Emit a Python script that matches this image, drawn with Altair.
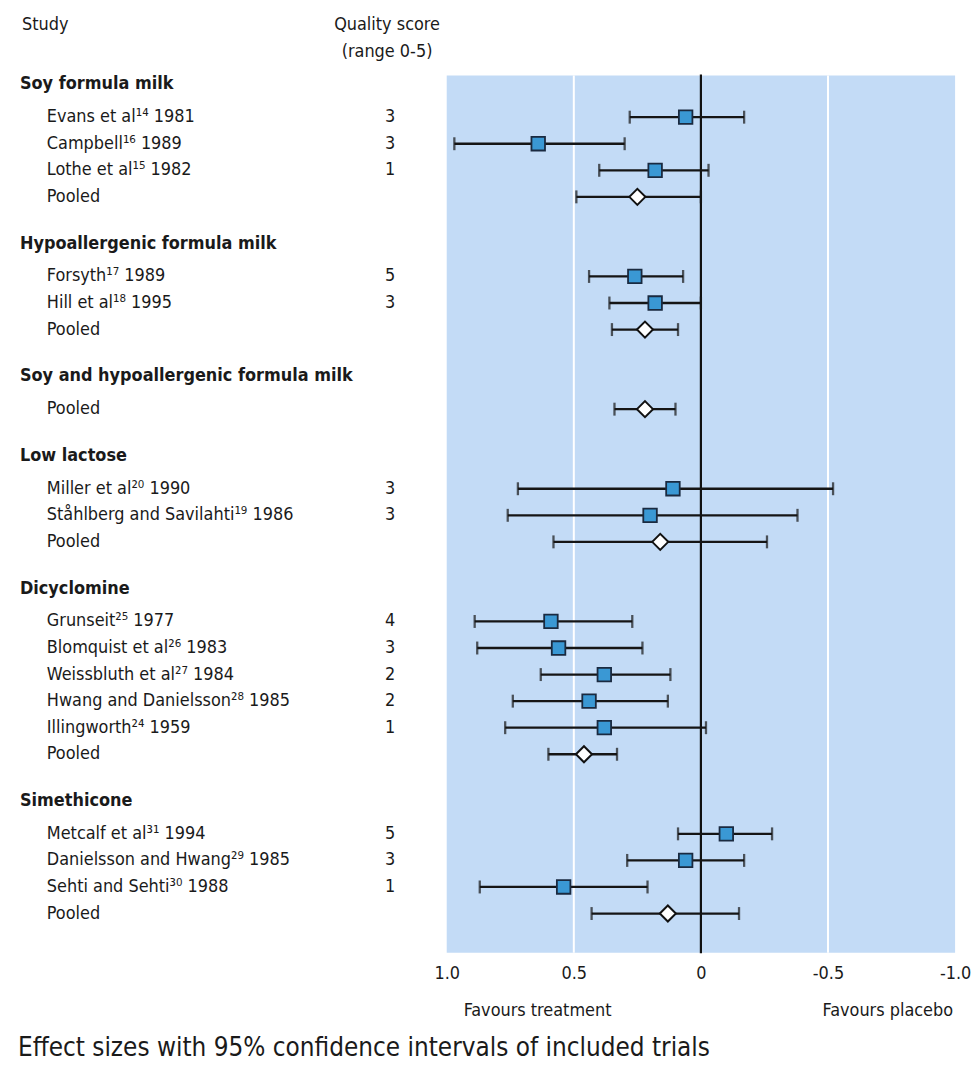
import altair as alt
import pandas as pd

# ---------------- data ----------------
groups = [
    "Soy formula milk",
    "Hypoallergenic formula milk",
    "Soy and hypoallergenic formula milk",
    "Low lactose",
    "Dicyclomine",
    "Simethicone",
]
study_group = [0, 0, 0, 0, 1, 1, 1, 2, 3, 3, 3, 4, 4, 4, 4, 4, 4, 5, 5, 5, 5]
study_label = [
    "Evans et al\u00b9\u2074 1981",
    "Campbell\u00b9\u2076 1989",
    "Lothe et al\u00b9\u2075 1982",
    "Pooled",
    "Forsyth\u00b9\u2077 1989",
    "Hill et al\u00b9\u2078 1995",
    "Pooled",
    "Pooled",
    "Miller et al\u00b2\u2070 1990",
    "St\u00e5hlberg and Savilahti\u00b9\u2079 1986",
    "Pooled",
    "Grunseit\u00b2\u2075 1977",
    "Blomquist et al\u00b2\u2076 1983",
    "Weissbluth et al\u00b2\u2077 1984",
    "Hwang and Danielsson\u00b2\u2078 1985",
    "Illingworth\u00b2\u2074 1959",
    "Pooled",
    "Metcalf et al\u00b3\u00b9 1994",
    "Danielsson and Hwang\u00b2\u2079 1985",
    "Sehti and Sehti\u00b3\u2070 1988",
    "Pooled",
]
quality = ["3", "3", "1", "", "5", "3", "", "", "3", "3", "", "4", "3", "2", "2", "1", "", "5", "3", "1", ""]
effect = [0.06, 0.64, 0.18, 0.25, 0.26, 0.18, 0.22, 0.22, 0.11, 0.20, 0.16,
          0.59, 0.56, 0.38, 0.44, 0.38, 0.46, -0.10, 0.06, 0.54, 0.13]
ci_left = [0.28, 0.97, 0.40, 0.49, 0.44, 0.36, 0.35, 0.34, 0.72, 0.76, 0.58,
           0.89, 0.88, 0.63, 0.74, 0.77, 0.60, 0.09, 0.29, 0.87, 0.43]
ci_right = [-0.17, 0.30, -0.03, 0.00, 0.07, 0.00, 0.09, 0.10, -0.52, -0.38, -0.26,
            0.27, 0.23, 0.12, 0.13, -0.02, 0.33, -0.28, -0.17, 0.21, -0.15]

tick_values = [1.0, 0.5, 0.0, -0.5, -1.0]
tick_labels = ["1.0", "0.5", "0", "-0.5", "-1.0"]
ref_lines = [0.5, -0.5]
zero_line = [0.0]

# ---------------- layout (row units) ----------------
ROW_PX = 26.7
HEIGHT = 947
WIDTH = 952
FIRST_HEADER = 74 / ROW_PX
HEAD_TO_ROW = 33 / ROW_PX
GROUP_GAP = 47 / ROW_PX
PLOT_TOP = 65 / ROW_PX
PLOT_BOTTOM = HEIGHT / ROW_PX
X_MAX = 1.0 + 441 / 255.5

pos = FIRST_HEADER
header_pos = []
study_pos = []
for g in range(len(groups)):
    header_pos.append(pos)
    pos += HEAD_TO_ROW
    for gi in study_group:
        if gi == g:
            study_pos.append(pos)
            pos += 1
    pos += GROUP_GAP - 1

studies = pd.DataFrame({
    "label": study_label,
    "quality": quality,
    "effect": effect,
    "lo": ci_left,
    "hi": ci_right,
    "pos": study_pos,
    "pooled": [s == "Pooled" for s in study_label],
})
headers = pd.DataFrame({"label": groups, "pos": header_pos})
bg = pd.DataFrame({"x": [tick_values[0]], "x2": [tick_values[-1]], "pos": [PLOT_TOP], "pos2": [PLOT_BOTTOM]})
grid = pd.DataFrame({"x": ref_lines, "pos": [PLOT_TOP] * len(ref_lines), "pos2": [PLOT_BOTTOM] * len(ref_lines)})
zero = pd.DataFrame({"x": zero_line, "pos": [PLOT_TOP - 0.03], "pos2": [PLOT_BOTTOM + 0.02]})

FONT = "'DejaVu Sans Condensed', 'Liberation Sans', Arial, sans-serif"
TXT = "#1a1a1a"
FS = 18

label_expr = " : ".join(
    f"datum.value == {v} ? '{l}'" for v, l in zip(tick_values, tick_labels)
) + " : ''"

XSCALE = alt.Scale(domain=[-1.0, X_MAX], reverse=True, nice=False, zero=False)
XAXIS = alt.Axis(values=tick_values, labelExpr=label_expr, domain=False, ticks=False, grid=False,
                 labelFontSize=18, labelFont=FONT, labelColor=TXT, labelPadding=12,
                 labelFlush=False, labelOverlap=False, title=None)
YSCALE = alt.Scale(domain=[0, PLOT_BOTTOM], reverse=True, nice=False, zero=False)


def X(field):
    return alt.X(f"{field}:Q", scale=XSCALE, axis=XAXIS, title=None)


def Y(field="pos"):
    return alt.Y(f"{field}:Q", scale=YSCALE, axis=None)


rect = alt.Chart(bg).mark_rect(color="#c3dbf6").encode(
    x=X("x"), x2="x2:Q", y=Y(), y2="pos2:Q")

grid_rules = alt.Chart(grid).mark_rule(color="white", strokeWidth=2).encode(
    x=X("x"), y=Y(), y2="pos2:Q")

zero_rule = alt.Chart(zero).mark_rule(color="#111111", strokeWidth=2.2).encode(
    x=X("x"), y=Y(), y2="pos2:Q")

ci = alt.Chart(studies).mark_rule(color="#151515", strokeWidth=2.3).encode(
    x=X("lo"), x2="hi:Q", y=Y())

cap_lo = alt.Chart(studies).mark_tick(orient="vertical", size=13, thickness=2.3, color="#151515").encode(
    x=X("lo"), y=Y())
cap_hi = alt.Chart(studies).mark_tick(orient="vertical", size=13, thickness=2.3, color="#151515").encode(
    x=X("hi"), y=Y())

squares = alt.Chart(studies).transform_filter("!datum.pooled").mark_square(
    size=185, fill="#3a98d4", stroke="#1a2a40", strokeWidth=1.8, opacity=1, filled=True).encode(
    x=X("effect"), y=Y())

diamonds = alt.Chart(studies).transform_filter("datum.pooled").mark_point(
    shape="diamond", size=260, filled=True, fill="white", stroke="#111111", strokeWidth=2, opacity=1).encode(
    x=X("effect"), y=Y())

header_text = alt.Chart(headers).mark_text(
    align="left", baseline="middle", font=FONT, fontSize=FS, fontWeight="bold", color=TXT).encode(
    x=alt.value(12), y=Y(), text="label:N")

study_text = alt.Chart(studies).mark_text(
    align="left", baseline="middle", font=FONT, fontSize=FS, color=TXT).encode(
    x=alt.value(39), y=Y(), text="label:N")

quality_text = alt.Chart(studies).mark_text(
    align="center", baseline="middle", font=FONT, fontSize=FS, color=TXT).encode(
    x=alt.value(384), y=Y(), text="quality:N")

col_study = alt.Chart(pd.DataFrame({"t": ["Study"]})).mark_text(
    align="left", baseline="middle", font=FONT, fontSize=FS, color=TXT).encode(
    x=alt.value(14), y=alt.value(14), text="t:N")
col_q1 = alt.Chart(pd.DataFrame({"t": ["Quality score"]})).mark_text(
    align="center", baseline="middle", font=FONT, fontSize=FS, color=TXT).encode(
    x=alt.value(381), y=alt.value(14), text="t:N")
col_q2 = alt.Chart(pd.DataFrame({"t": ["(range 0-5)"]})).mark_text(
    align="center", baseline="middle", font=FONT, fontSize=FS, color=TXT).encode(
    x=alt.value(381), y=alt.value(42), text="t:N")

fav_t = alt.Chart(pd.DataFrame({"t": ["Favours treatment"]})).mark_text(
    align="left", baseline="middle", font=FONT, fontSize=FS, color=TXT).encode(
    x=alt.value(458), y=alt.value(1005), text="t:N")
fav_p = alt.Chart(pd.DataFrame({"t": ["Favours placebo"]})).mark_text(
    align="right", baseline="middle", font=FONT, fontSize=FS, color=TXT).encode(
    x=alt.value(950), y=alt.value(1005), text="t:N")
caption = alt.Chart(pd.DataFrame({"t": ["Effect sizes with 95% confidence intervals of included trials"]})).mark_text(
    align="left", baseline="middle", font=FONT, fontSize=26, color=TXT).encode(
    x=alt.value(10), y=alt.value(1043), text="t:N")

chart = alt.layer(
    rect, grid_rules, zero_rule, ci, cap_lo, cap_hi, squares, diamonds,
    header_text, study_text, quality_text, col_study, col_q1, col_q2, fav_t, fav_p, caption,
).properties(width=WIDTH, height=HEIGHT, padding=0, background="white").configure_view(stroke=None)

chart.save("out.html", embed_options={"renderer": "svg", "actions": False})
